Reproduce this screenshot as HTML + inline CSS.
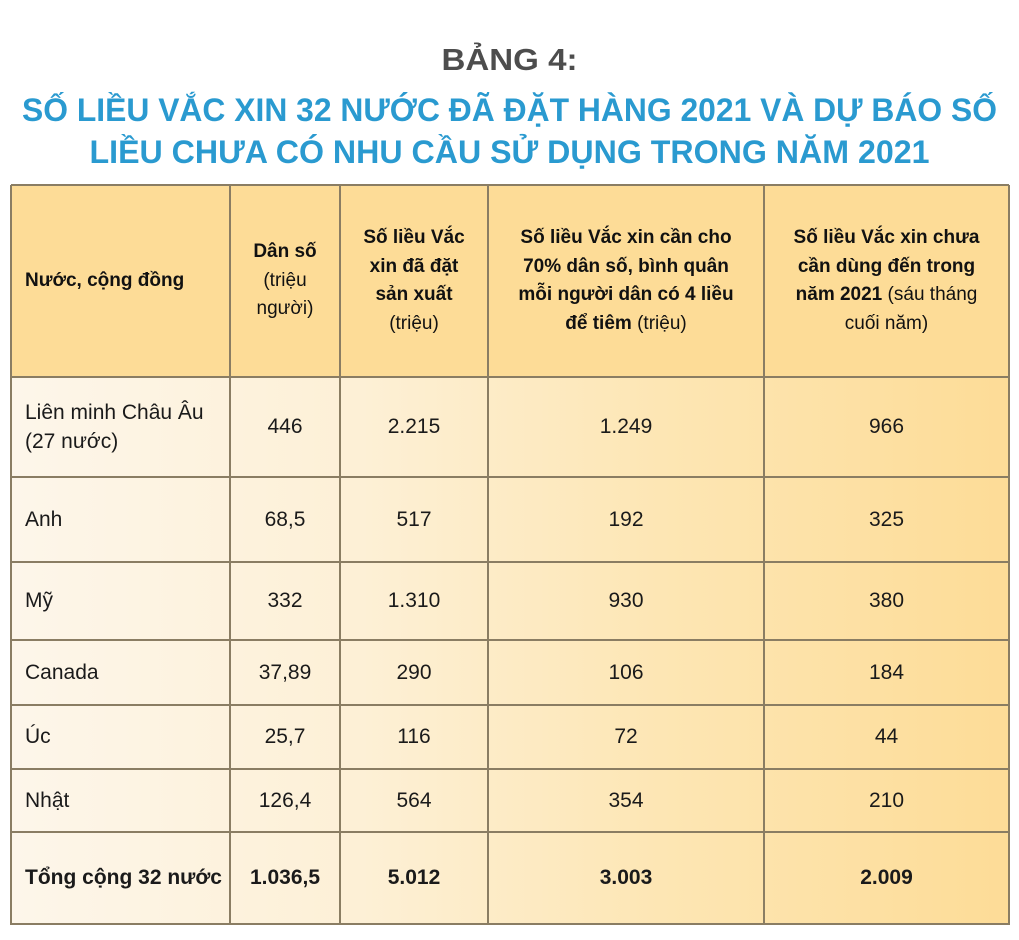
<!DOCTYPE html>
<html><head><meta charset="utf-8">
<style>
body{margin:0;width:1019px;height:940px;background:#fff;font-family:"Liberation Sans",sans-serif;position:relative;overflow:hidden}
.c{position:absolute;box-sizing:border-box;display:flex;align-items:center;justify-content:center;text-align:center;font-size:21px;color:#1a1a1a;line-height:1.4}
.c>span{display:block}
.h{font-size:19px;line-height:1.5;color:#111;white-space:nowrap}
.l{justify-content:flex-start;text-align:left;padding-left:14px}
b{font-weight:bold}
.vl{position:absolute;width:2px;background:#8a7d63}
.hl{position:absolute;height:2px;background:#8a7d63;left:11px;width:998px}
</style></head><body>
<svg width="1019" height="175" style="position:absolute;left:0;top:0">
<text x="509.5" y="70" text-anchor="middle" font-family="Liberation Sans" font-weight="bold" font-size="31" fill="#4d4d4d" textLength="136" lengthAdjust="spacingAndGlyphs">BẢNG 4:</text>
<text x="509.5" y="121" text-anchor="middle" font-family="Liberation Sans" font-weight="bold" font-size="32" fill="#2a9ad0" textLength="975" lengthAdjust="spacingAndGlyphs">SỐ LIỀU VẮC XIN 32 NƯỚC ĐÃ ĐẶT HÀNG 2021 VÀ DỰ BÁO SỐ</text>
<text x="509.5" y="163" text-anchor="middle" font-family="Liberation Sans" font-weight="bold" font-size="32" fill="#2a9ad0" textLength="840" lengthAdjust="spacingAndGlyphs">LIỀU CHƯA CÓ NHU CẦU SỬ DỤNG TRONG NĂM 2021</text>
</svg>
<div style="position:absolute;left:11px;top:185px;width:998px;height:740px;background:linear-gradient(90deg,#fdf6ea 0%,#fdf0d6 35%,#fde6b4 65%,#fddc97 100%)"></div>
<div style="position:absolute;left:11px;top:185px;width:998px;height:192px;background:#fddc97"></div>
<div id="cells"></div>
<script>
const cols=[11,230,340,488,764,1009];
const rows=[185,377,477,562,640,705,769,832,924];
const headers=['<b>Nước, cộng đồng</b>','<b>Dân số</b><br>(triệu<br>người)','<b>Số liều Vắc<br>xin đã đặt<br>sản xuất</b><br>(triệu)','<b>Số liều Vắc xin cần cho<br>70% dân số, bình quân<br>mỗi người dân có 4 liều<br>để tiêm</b> (triệu)','<b>Số liều Vắc xin chưa<br>cần dùng đến trong<br>năm 2021</b> (sáu tháng<br>cuối năm)'];
const countries=['Liên minh Châu Âu<br>(27 nước)','Anh','Mỹ','Canada','Úc','Nhật','<b>Tổng cộng 32 nước</b>'];
const population=['446','68,5','332','37,89','25,7','126,4','1.036,5'];
const ordered=['2.215','517','1.310','290','116','564','5.012'];
const needed=['1.249','192','930','106','72','354','3.003'];
const unused=['966','325','380','184','44','210','2.009'];
const root=document.getElementById('cells');
function cell(x0,x1,y0,y1,html,cls,name){
  const d=document.createElement('div');
  d.className='c '+cls;
  d.style.left=x0+'px';d.style.top=y0+'px';d.style.width=(x1-x0)+'px';d.style.height=(y1-y0)+'px';
  d.innerHTML='<span>'+html+'</span>';
  
  
  root.appendChild(d);
}
headers.forEach((h,i)=>cell(cols[i],cols[i+1],rows[0],rows[1],h,'h'+(i==0?' l':''),'header-cell'));
countries.forEach((c,r)=>{
  const last=r==countries.length-1;
  const vals=[c,population[r],ordered[r],needed[r],unused[r]];
  vals.forEach((v,i)=>cell(cols[i],cols[i+1],rows[r+1],rows[r+2],last&&i>0?'<b>'+v+'</b>':v,i==0?'l':'',last?'total-cell':'data-cell'));
});
cols.forEach(x=>{const d=document.createElement('div');d.className='vl';d.style.left=(x-1)+'px';d.style.top='185px';d.style.height='740px';


root.appendChild(d);});
rows.forEach(y=>{const d=document.createElement('div');d.className='hl';d.style.top=(y-1)+'px';


root.appendChild(d);});
</script>
</body></html>
